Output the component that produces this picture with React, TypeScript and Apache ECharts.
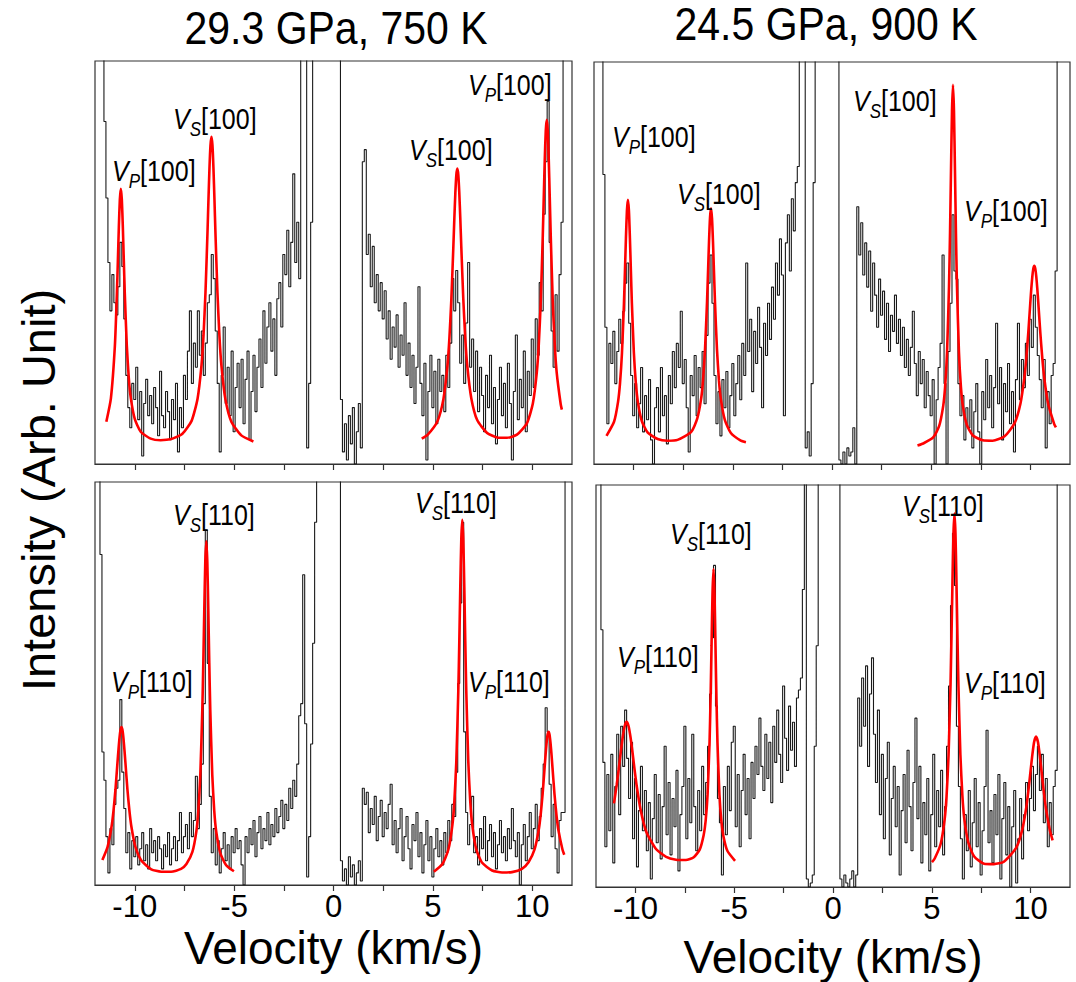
import React, { useEffect, useRef } from 'react';
import * as echarts from 'echarts';

// ---------- data ----------
const V_START = -12;
const V_STEP = 0.1;
const TICK_LABELS = [-10, -5, 0, 5, 10];
const TICK_MARKS = [-10, -7.5, -5, -2.5, 0, 2.5, 5, 7.5, 10];
const TITLES = ['29.3 GPa, 750 K', '24.5 GPa, 900 K'];
const X_NAME = 'Velocity (km/s)';
const Y_NAME = 'Intensity (Arb. Unit)';

// measured intensity (arb. unit, 0 = frame bottom, 100 = frame top), -12 .. 12 km/s step 0.1
const TL_COUNTS = [
  150,150,150,150,150,85,66,50,38,47,
  40,37,44,55,49,36,22,14,9,20,
  16,24,11,18,2,15,21,12,17,10,
  19,14,7,23,12,9,18,13,6,16,
  11,20,3,14,9,22,16,28,38,20,
  30,24,38,27,33,22,30,40,42,52,
  46,33,20,3,22,34,15,24,12,28,
  8,19,25,14,26,10,21,28,6,18,
  27,13,24,31,19,38,25,34,40,28,
  36,22,41,45,34,52,47,58,44,55,
  72,50,60,46,150,150,150,4,20,60,
  150,150,150,150,150,150,150,150,150,150,
  150,150,150,150,16,3,10,1,12,5,
  14,0,8,15,4,75,78,52,57,44,
  54,40,47,38,45,36,43,31,38,26,
  34,29,37,24,32,27,40,22,30,19,
  27,15,24,44,20,12,25,1,18,27,
  14,23,10,26,18,22,13,27,19,30,
  46,38,48,40,25,32,20,35,50,24,
  31,18,28,13,24,17,8,22,14,27,
  10,19,5,16,24,12,20,9,25,15,
  1,18,32,11,21,14,28,8,23,17,
  31,19,36,27,45,38,62,75,90,55,
  33,24,42,28,47,60,150,150,150,150,
  150,
];
const TR_COUNTS = [
  150,150,150,150,150,72,34,10,30,25,
  33,20,28,36,30,38,45,50,35,22,
  12,20,9,15,24,8,17,11,21,6,
  0,14,19,8,24,12,17,5,22,15,
  28,19,30,24,38,20,26,14,3,22,
  17,27,12,24,19,28,15,32,45,52,
  40,22,10,18,7,21,14,23,9,17,
  25,12,20,27,16,30,22,50,28,36,
  18,33,25,39,29,14,35,27,40,31,
  44,36,50,42,56,47,12,55,62,48,
  66,58,70,74,150,150,150,4,8,2,
  20,70,150,150,150,150,150,150,150,150,
  150,150,150,150,1,0,3,0,4,2,
  3,9,0,64,52,60,47,55,44,53,
  38,50,42,34,46,37,43,31,40,28,
  37,33,42,30,36,27,34,24,31,22,
  29,38,25,17,28,20,26,14,23,17,
  12,21,0,16,24,30,52,20,0,28,
  40,62,48,46,20,12,17,6,14,9,
  16,4,13,20,8,0,18,11,26,14,
  22,9,19,35,15,24,6,20,13,25,
  10,18,3,21,35,16,26,19,30,22,
  36,29,42,34,27,21,14,26,4,18,
  10,22,25,48,150,150,150,150,150,150,
  150,
];
const BL_COUNTS = [
  150,150,150,82,33,26,12,3,14,10,
  20,24,26,46,28,19,8,13,4,11,
  7,12,5,9,13,6,10,4,14,8,
  11,6,12,9,4,10,7,13,5,9,
  12,6,11,18,8,12,15,9,18,12,
  16,27,14,20,30,45,88,55,22,8,
  14,5,11,3,9,13,6,10,4,12,
  8,14,9,11,5,0,12,8,14,10,
  16,7,13,17,9,14,11,18,10,15,
  12,19,13,17,21,14,20,16,24,19,
  26,22,30,42,45,77,40,2,12,35,
  60,90,150,150,150,150,150,150,150,150,
  150,150,150,150,6,1,4,0,7,2,
  5,0,3,6,1,24,20,23,13,19,
  15,22,11,17,21,12,18,14,20,25,
  10,16,8,14,19,6,12,17,9,4,
  15,11,18,7,13,3,10,16,6,12,
  2,9,14,7,11,5,13,8,16,11,
  20,17,28,50,70,90,38,18,10,15,
  22,8,12,5,14,9,17,6,11,15,
  7,13,4,10,16,8,12,6,14,9,
  19,11,7,13,0,10,15,6,12,18,
  9,14,20,11,17,24,30,44,38,25,
  12,20,9,3,16,18,18,150,150,150,
  150,
];
const BR_COUNTS = [
  150,150,150,64,31,10,28,14,33,6,
  25,38,18,40,30,44,32,22,36,12,
  27,5,19,30,14,24,9,21,2,17,
  28,11,23,7,20,35,13,26,8,22,
  15,29,4,18,25,40,12,27,16,38,
  20,9,24,14,30,18,26,35,48,62,
  80,45,22,16,3,25,13,30,19,36,
  40,15,28,10,24,33,18,27,12,31,
  22,35,28,42,30,24,38,27,36,21,
  40,31,44,33,26,50,37,29,45,34,
  41,30,47,49,52,74,150,2,0,1,
  3,35,60,150,150,150,150,150,150,150,
  150,150,150,150,2,0,3,1,0,2,
  4,0,3,47,35,52,40,55,30,48,
  57,38,26,44,18,33,12,27,36,8,
  22,30,15,25,3,19,28,11,34,20,
  9,26,42,17,30,6,21,13,27,4,
  18,33,10,24,15,29,8,20,35,50,
  70,88,75,40,25,12,2,18,9,24,
  5,16,27,10,21,3,14,25,39,11,
  19,6,23,13,28,2,17,26,8,20,
  0,15,24,1,12,22,7,18,26,14,
  22,30,19,28,35,24,33,16,27,10,
  21,13,25,29,150,150,150,150,150,150,
  150,
];

// fitted peak profiles: [velocity, intensity]
const TL_FIT_NEG = [[-11.43,10.5],[-11.2,16.3],[-11.0,29.3],[-10.9,42.1],[-10.85,50.3],[-10.8,58.8],[-10.75,65.6],[-10.7,68.3],[-10.65,65.6],[-10.6,58.9],[-10.55,50.4],[-10.5,42.2],[-10.4,29.4],[-10.3,21.3],[-10.2,16.4],[-10.0,11.2],[-9.7,8.0],[-9.2,6.3],[-8.7,5.9],[-8.4,6.0],[-8.1,6.3],[-7.6,7.5],[-7.14,10.7],[-6.84,16.2],[-6.64,24.6],[-6.54,31.9],[-6.44,42.7],[-6.34,57.5],[-6.29,65.8],[-6.24,73.5],[-6.19,79.1],[-6.14,81.2],[-6.09,79.1],[-6.04,73.4],[-5.99,65.7],[-5.94,57.4],[-5.84,42.6],[-5.74,31.8],[-5.64,24.5],[-5.44,16.1],[-5.14,10.5],[-4.64,7.1],[-4.03,5.6]];
const TL_FIT_POS = [[4.44,6.3],[4.73,7.2],[5.23,10.6],[5.53,16.1],[5.73,24.2],[5.83,31.1],[5.93,40.9],[6.03,53.9],[6.08,60.9],[6.13,67.2],[6.18,71.7],[6.23,73.3],[6.28,71.7],[6.33,67.2],[6.38,60.9],[6.43,53.9],[6.53,41.0],[6.63,31.2],[6.73,24.4],[6.93,16.4],[7.23,10.9],[7.73,7.7],[8.23,6.6],[8.73,6.5],[9.23,7.3],[9.73,10.1],[10.03,15.0],[10.23,22.8],[10.33,29.8],[10.43,40.6],[10.53,56.7],[10.58,66.3],[10.63,75.6],[10.68,82.7],[10.73,85.4],[10.78,82.7],[10.83,75.6],[10.88,66.3],[10.93,56.7],[11.03,40.6],[11.13,29.8],[11.23,22.7],[11.43,14.9],[11.49,13.5]];
const BL_FIT_NEG = [[-11.63,6.2],[-11.37,9.4],[-11.17,14.4],[-11.07,18.4],[-10.97,23.7],[-10.87,30.3],[-10.82,33.5],[-10.77,36.4],[-10.72,38.4],[-10.67,39.2],[-10.62,38.5],[-10.57,36.5],[-10.52,33.6],[-10.47,30.4],[-10.37,23.8],[-10.27,18.5],[-10.17,14.5],[-9.97,9.5],[-9.67,6.1],[-9.17,3.9],[-8.67,3.3],[-8.17,3.3],[-7.67,4.0],[-7.40,5.2],[-7.10,8.2],[-6.90,13.3],[-6.80,18.5],[-6.70,27.5],[-6.60,43.6],[-6.55,55.2],[-6.50,68.6],[-6.45,80.4],[-6.40,85.3],[-6.35,80.3],[-6.30,68.5],[-6.25,55.1],[-6.20,43.5],[-6.10,27.4],[-6.00,18.4],[-5.90,13.2],[-5.70,8.0],[-5.40,4.9],[-5.01,3.4]];
const BL_FIT_POS = [[5.05,3.3],[5.48,5.2],[5.78,8.8],[5.98,14.8],[6.08,20.7],[6.18,30.7],[6.28,48.2],[6.33,60.5],[6.38,74.1],[6.43,85.8],[6.48,90.6],[6.53,85.8],[6.58,74.1],[6.63,60.5],[6.68,48.2],[6.78,30.8],[6.88,20.8],[6.98,14.9],[7.18,8.9],[7.48,5.5],[7.98,3.6],[8.48,3.1],[8.98,3.2],[9.48,4.0],[9.82,5.7],[10.12,8.9],[10.32,13.5],[10.42,17.3],[10.52,22.5],[10.62,29.0],[10.67,32.3],[10.72,35.2],[10.77,37.3],[10.82,38.0],[10.87,37.3],[10.92,35.2],[10.97,32.3],[11.02,29.0],[11.12,22.5],[11.22,17.3],[11.32,13.5],[11.52,8.8],[11.61,7.5]];
const TR_FIT_NEG = [[-11.37,7.0],[-10.99,10.5],[-10.79,15.4],[-10.69,20.0],[-10.59,27.6],[-10.49,39.9],[-10.44,47.9],[-10.39,56.2],[-10.34,63.0],[-10.29,65.7],[-10.24,63.1],[-10.19,56.3],[-10.14,48.0],[-10.09,40.0],[-9.99,27.7],[-9.89,20.1],[-9.79,15.5],[-9.59,10.7],[-9.29,7.8],[-8.79,6.2],[-8.29,5.8],[-7.79,6.0],[-7.10,8.0],[-6.80,11.2],[-6.60,16.2],[-6.50,21.0],[-6.40,28.7],[-6.30,40.5],[-6.25,47.9],[-6.20,55.4],[-6.15,61.3],[-6.10,63.6],[-6.05,61.1],[-6.00,55.2],[-5.95,47.7],[-5.90,40.3],[-5.80,28.5],[-5.70,20.8],[-5.60,16.0],[-5.40,10.9],[-5.10,7.7],[-4.60,5.8],[-4.34,5.4]];
const TR_FIT_POS = [[4.31,4.6],[4.60,5.1],[5.10,6.6],[5.40,9.4],[5.60,14.2],[5.70,19.0],[5.80,27.7],[5.90,44.3],[5.95,57.2],[6.00,73.0],[6.05,87.8],[6.10,94.3],[6.15,87.8],[6.20,73.0],[6.25,57.3],[6.30,44.4],[6.40,27.9],[6.50,19.2],[6.60,14.4],[6.80,9.7],[7.10,7.1],[7.60,5.9],[8.10,5.8],[8.70,6.9],[9.20,10.1],[9.50,15.0],[9.70,21.5],[9.80,26.5],[9.90,32.9],[10.00,40.2],[10.05,43.7],[10.10,46.6],[10.15,48.6],[10.20,49.3],[10.25,48.6],[10.30,46.6],[10.35,43.7],[10.40,40.2],[10.50,32.9],[10.60,26.5],[10.70,21.5],[10.90,14.9],[11.20,10.0],[11.29,9.1]];
const BR_FIT_NEG = [[-11.09,20.8],[-10.95,25.5],[-10.85,29.3],[-10.75,33.4],[-10.65,37.2],[-10.55,40.0],[-10.45,41.1],[-10.35,40.0],[-10.25,37.2],[-10.15,33.4],[-10.05,29.3],[-9.95,25.5],[-9.75,19.4],[-9.45,13.7],[-8.95,9.4],[-8.45,7.5],[-7.95,6.8],[-7.45,6.7],[-7.05,7.4],[-6.75,9.3],[-6.55,12.9],[-6.45,16.4],[-6.35,23.1],[-6.25,36.1],[-6.20,46.7],[-6.15,60.1],[-6.10,73.2],[-6.05,79.1],[-6.00,73.1],[-5.95,60.0],[-5.90,46.6],[-5.85,36.0],[-5.75,23.0],[-5.65,16.3],[-5.55,12.7],[-5.35,9.0],[-4.96,6.5]];
const BR_FIT_POS = [[5.01,6.2],[5.15,7.1],[5.45,10.7],[5.65,16.7],[5.75,22.6],[5.85,32.7],[5.95,50.2],[6.00,62.5],[6.05,76.2],[6.10,88.0],[6.15,92.9],[6.20,88.1],[6.25,76.3],[6.30,62.6],[6.35,50.3],[6.45,32.9],[6.55,22.8],[6.65,16.9],[6.85,11.1],[7.15,7.6],[7.65,5.8],[8.15,5.7],[8.65,6.3],[9.28,9.8],[9.58,14.2],[9.78,19.6],[9.88,23.4],[9.98,27.8],[10.08,32.3],[10.18,36.0],[10.28,37.4],[10.38,36.0],[10.48,32.3],[10.58,27.8],[10.68,23.4],[10.78,19.6],[10.98,14.1],[11.12,11.6]];

// peak annotation texts: [subscript, index]
const TOP_LABELS = [['P', '[100]'], ['S', '[100]'], ['S', '[100]'], ['P', '[100]']];
const BOTTOM_LABELS = [['P', '[110]'], ['S', '[110]'], ['S', '[110]'], ['P', '[110]']];

// ---------- layout / style ----------
const FONT = '"Liberation Sans", Arial, Helvetica, sans-serif';
const FRAME = '#333';
const GRIDS = [
  { left: 95, top: 61, width: 477, height: 403 },
  { left: 594, top: 62, width: 476, height: 402 },
  { left: 95, top: 482, width: 477, height: 403 },
  { left: 596, top: 485, width: 474, height: 402 },
];
// label anchors [x, y] in px, per panel
const LABEL_POS = [
  [[112, 171], [173, 119], [409, 150], [468, 85]],
  [[612, 137], [677, 194], [853, 101], [964, 211]],
  [[111, 682], [173, 515], [415, 503], [468, 682]],
  [[617, 657], [670, 534], [902, 506], [964, 683]],
];
const PANEL_LABELS = [TOP_LABELS, TOP_LABELS, BOTTOM_LABELS, BOTTOM_LABELS];

const toXY = (vals: number[]) => vals.map((v, i) => [+(V_START + i * V_STEP).toFixed(2), v]);

const peakLabel = (x: number, y: number, sub: string, idx: string) => ({
  type: 'text',
  x,
  y,
  scaleY: 1.15,
  z: 50,
  style: {
    text: `{v|V}{s|${sub}}{n|${idx}}`,
    align: 'left',
    verticalAlign: 'middle',
    fill: '#000',
    rich: {
      v: { fontSize: 25, fontStyle: 'italic', fontFamily: FONT, lineHeight: 35, fill: '#000' },
      s: { fontSize: 17, fontStyle: 'italic', fontFamily: FONT, lineHeight: 17, verticalAlign: 'bottom', fill: '#000' },
      n: { fontSize: 25, fontFamily: FONT, lineHeight: 35, fill: '#000' },
    },
  },
});

export default function App() {
  const ref = useRef<HTMLDivElement>(null);
  useEffect(() => {
    if (!ref.current) return;
    const chart = echarts.init(ref.current, null, { renderer: 'svg' });
    const counts = [TL_COUNTS, TR_COUNTS, BL_COUNTS, BR_COUNTS];
    const fits = [
      [TL_FIT_NEG, TL_FIT_POS],
      [TR_FIT_NEG, TR_FIT_POS],
      [BL_FIT_NEG, BL_FIT_POS],
      [BR_FIT_NEG, BR_FIT_POS],
    ];
    const nameGaps = [0, 0, 40, 47];

    const xAxis = GRIDS.map((_, i) => {
      const bottom = i >= 2;
      return {
        type: 'value',
        gridIndex: i,
        min: -12,
        max: 12,
        name: bottom ? X_NAME : '',
        nameLocation: 'middle',
        nameGap: nameGaps[i],
        nameTextStyle: { fontSize: 46, fontFamily: FONT, color: '#000' },
        axisLine: { show: true, onZero: false, lineStyle: { color: FRAME, width: 1.2 } },
        axisTick: { show: true, customValues: TICK_MARKS, length: 6, inside: false, lineStyle: { color: FRAME, width: 1.2 } },
        axisLabel: {
          show: bottom,
          customValues: TICK_LABELS,
          margin: 5,
          formatter: (v: number) => `{t|${v}}`,
          rich: { t: { fontSize: 31, fontFamily: FONT, color: '#000', lineHeight: 32 } },
        },
        splitLine: { show: false },
      };
    });
    const yAxis = GRIDS.map((_, i) => ({ type: 'value', gridIndex: i, min: 0, max: 100, show: false }));

    const series: any[] = [];
    counts.forEach((c, i) => {
      series.push({
        type: 'line',
        xAxisIndex: i,
        yAxisIndex: i,
        data: toXY(c),
        step: 'middle',
        showSymbol: false,
        clip: true,
        lineStyle: { color: '#1a1a1a', width: 1.1 },
        z: 2,
        silent: true,
      });
      fits[i].forEach((f) => {
        series.push({
          type: 'line',
          xAxisIndex: i,
          yAxisIndex: i,
          data: f,
          smooth: 0.2,
          showSymbol: false,
          clip: true,
          lineStyle: { color: '#ff0000', width: 2.6 },
          z: 3,
          silent: true,
        });
      });
    });

    const graphics: any[] = [
      {
        type: 'text', x: 336, y: 28, scaleY: 1.12,
        style: { text: TITLES[0], fontSize: 41, fontFamily: FONT, fill: '#000', align: 'center', verticalAlign: 'middle' },
      },
      {
        type: 'text', x: 826, y: 24, scaleY: 1.12,
        style: { text: TITLES[1], fontSize: 41, fontFamily: FONT, fill: '#000', align: 'center', verticalAlign: 'middle' },
      },
      {
        type: 'text', x: 38, y: 490, rotation: Math.PI / 2,
        style: { text: Y_NAME, fontSize: 47, fontFamily: FONT, fill: '#000', align: 'center', verticalAlign: 'middle' },
      },
    ];
    LABEL_POS.forEach((panel, p) => {
      panel.forEach((pos, k) => {
        const [sub, idx] = PANEL_LABELS[p][k];
        graphics.push(peakLabel(pos[0], pos[1], sub, idx));
      });
    });

    chart.setOption({
      animation: false,
      backgroundColor: '#fff',
      grid: GRIDS.map((g) => ({ ...g, show: true, borderColor: FRAME, borderWidth: 1.2, containLabel: false })),
      xAxis,
      yAxis,
      series,
      graphic: graphics,
    });
    return () => chart.dispose();
  }, []);
  return (
    <div
      ref={ref}
      style={{ position: 'fixed', left: 0, top: 0, width: 1076, height: 982, background: '#fff' }}
    />
  );
}
